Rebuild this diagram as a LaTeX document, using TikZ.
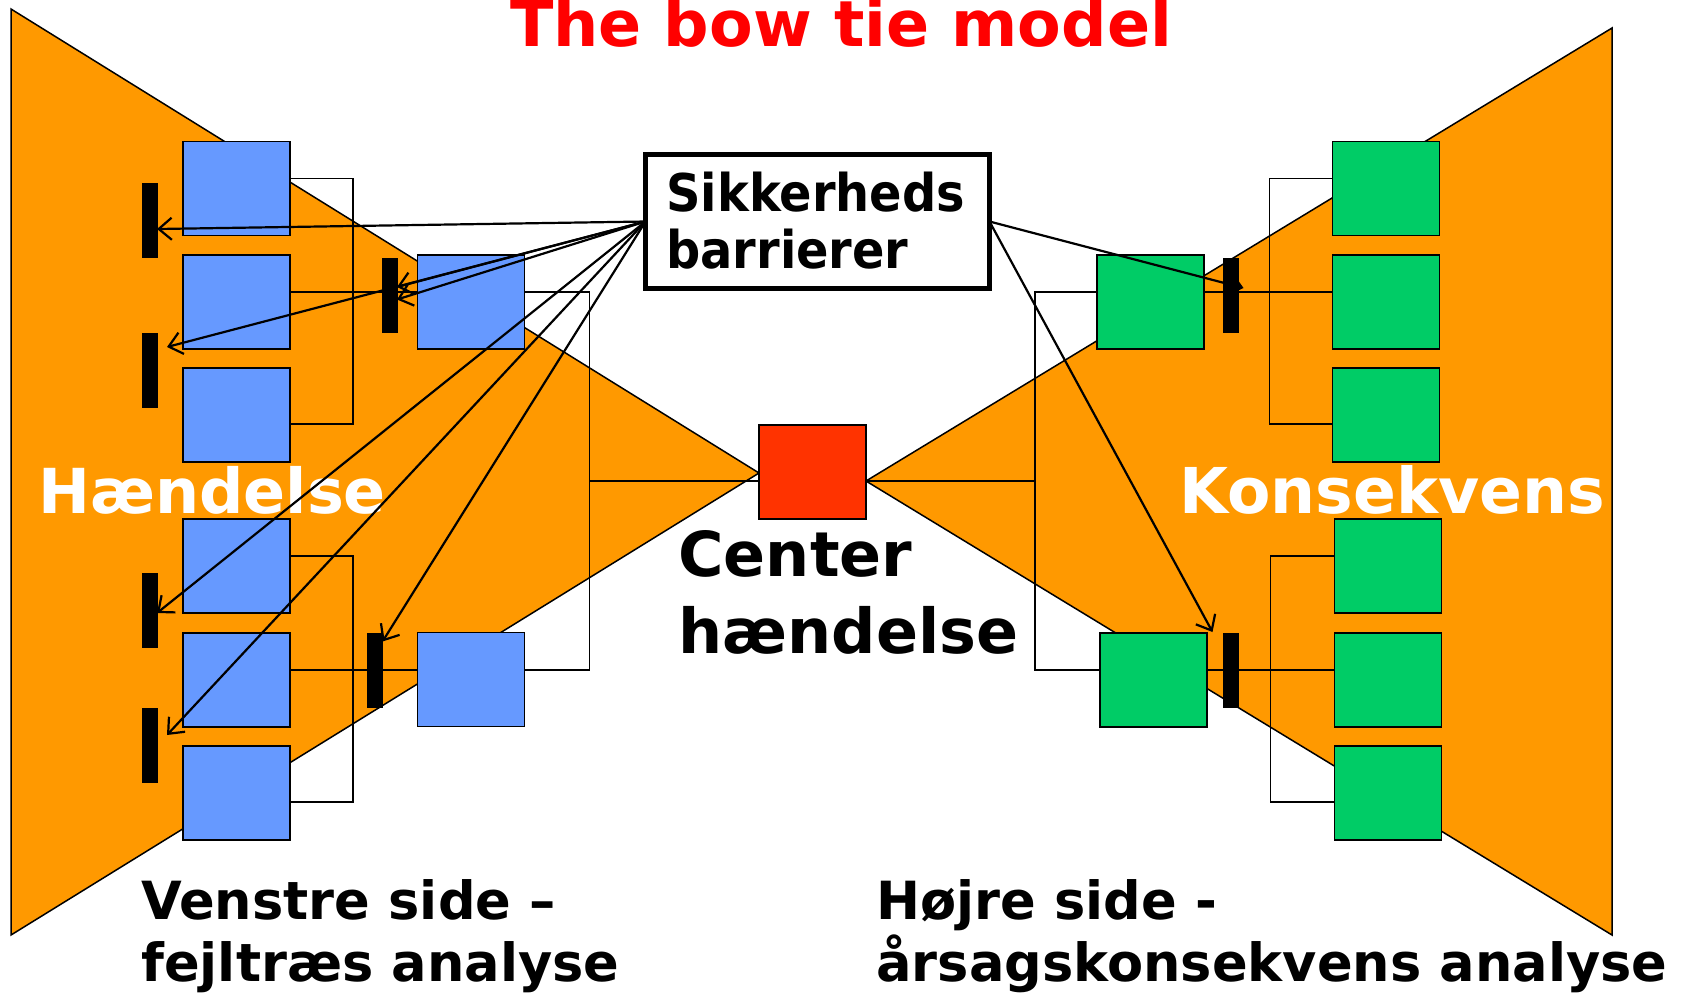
\documentclass[tikz,border=0pt]{standalone}
\usepackage{fontspec}
\setmainfont{DejaVu Sans}
\newfontfamily\condfont{DejaVu Sans}[FakeStretch=0.92]
\usetikzlibrary{arrows.meta,calc}
\definecolor{wingorange}{HTML}{FF9900}
\definecolor{causeblue}{HTML}{6699FF}
\definecolor{effectgreen}{HTML}{00CC66}
\definecolor{topred}{HTML}{FF3300}
\definecolor{titlered}{HTML}{FF0000}
\begin{document}
\begin{tikzpicture}[x=0.5pt,y=-0.5pt,
  wing/.style={fill=wingorange,draw=black,line width=0.75pt,line join=miter},
  cause/.style={draw=black,fill=causeblue,line width=0.7pt,minimum width=53.5pt,minimum height=47pt,inner sep=0pt,outer sep=0pt},
  effect/.style={cause,fill=effectgreen},
  topevent/.style={cause,fill=topred},
  barrier/.style={fill=black,minimum width=8pt,minimum height=37.5pt,inner sep=0pt,outer sep=0pt},
  conn/.style={line width=0.65pt},
  barrow/.style={line width=1.1pt,-{Straight Barb[length=6.5pt,width=11pt]}},
  lbl/.style={inner sep=0pt,anchor=base west,font=\bfseries}
]
\useasboundingbox (0,0) rectangle (1686,992);

% the two wings of the bow tie
\draw[wing] (11,9) -- (11,935) -- (759,473) -- cycle;
\draw[wing] (1612,28) -- (1612,935) -- (866,481) -- cycle;

% causes (left)
\node[cause] (L1) at (236.5,188.5) {};
\node[cause] (L2) at (236.5,302) {};
\node[cause] (L3) at (236.5,415) {};
\node[cause] (L4) at (236.5,566) {};
\node[cause] (L5) at (236.5,680) {};
\node[cause] (L6) at (236.5,793) {};
\node[cause] (M1) at (471,302) {};
\node[cause] (M2) at (471,679.5) {};

% consequences (right)
\node[effect] (R1) at (1386,188.5) {};
\node[effect] (R2) at (1386,302) {};
\node[effect] (R3) at (1386,415) {};
\node[effect] (R4) at (1388,566) {};
\node[effect] (R5) at (1388,680) {};
\node[effect] (R6) at (1388,793) {};
\node[effect] (G1) at (1150.5,302) {};
\node[effect] (G2) at (1153.5,680) {};

% top event
\node[topevent] (ctr) at (812.5,472) {};

% fault tree connectors
\draw[conn] ($(L1.east)+(0,-10)$) -- ++(63,0) |- ($(L3.east)+(0,9)$);
\draw[conn] ($(L2.east)+(0,-10)$) -- ($(M1.west)+(0,-10)$);
\draw[conn] ($(L4.east)+(0,-10)$) -- ++(63,0) |- ($(L6.east)+(0,9)$);
\draw[conn] ($(L5.east)+(0,-10)$) -- ($(M2.west)+(0,-9.5)$);
\draw[conn] ($(M1.east)+(0,-10)$) -- ++(65,0) |- ($(M2.east)+(0,-9.5)$);
\coordinate (lj) at (589,481);
\draw[conn] (lj) -- (lj -| ctr.west);

% event tree connectors
\draw[conn] ($(R1.west)+(0,-10)$) -- ++(-63,0) |- ($(R3.west)+(0,9)$);
\draw[conn] ($(G1.east)+(0,-10)$) -- ($(R2.west)+(0,-10)$);
\draw[conn] ($(R4.west)+(0,-10)$) -- ++(-64,0) |- ($(R6.west)+(0,9)$);
\draw[conn] ($(G2.east)+(0,-10)$) -- ($(R5.west)+(0,-10)$);
\draw[conn] ($(G1.west)+(0,-10)$) -- ++(-62,0) |- ($(G2.west)+(0,-10)$);
\coordinate (rj) at (1035,481);
\draw[conn] (ctr.east |- rj) -- (rj);

% barriers
\node[barrier] (B1) at (150,220.5) {};
\node[barrier] (B2) at (150,370.5) {};
\node[barrier] (B3) at (150,610.5) {};
\node[barrier] (B4) at (150,745.5) {};
\node[barrier] (C1) at (390,295.5) {};
\node[barrier] (C2) at (374.5,670.5) {};
\node[barrier] (RB1) at (1230.5,295) {};
\node[barrier] (RB2) at (1230.5,670) {};

% safety barrier box
\node[draw=black,line width=2.5pt,minimum width=172pt,minimum height=67pt,inner sep=0pt,outer sep=0pt] (sik) at (817.5,221.5) {};
\node[lbl,font=\condfont\bfseries\fontsize{26}{30}\selectfont] (sik1) at (666,211) {Sikkerheds};
\node[lbl,font=\condfont\bfseries\fontsize{26}{30}\selectfont] (sik2) at (666,268) {barrierer};

% wing labels
\node[lbl,text=white,font=\bfseries\fontsize{31}{36}\selectfont] (hl) at (38,513) {Hændelse};
\node[lbl,text=white,font=\bfseries\fontsize{31.6}{36}\selectfont] (kl) at (1179,513) {Konsekvens};

% title and captions
\node[inner sep=0pt,anchor=base,text=titlered,font=\bfseries\fontsize{31.8}{38}\selectfont] (title) at (841,46) {The bow tie model};
\node[lbl,font=\bfseries\fontsize{31}{36}\selectfont] (c1) at (678,576) {Center};
\node[lbl,font=\bfseries\fontsize{31}{36}\selectfont] (c2) at (678,653) {hændelse};
\node[lbl,font=\bfseries\fontsize{26.3}{31}\selectfont] (v1) at (141,919) {Venstre side –};
\node[lbl,font=\bfseries\fontsize{26.3}{31}\selectfont] (v2) at (141,981) {fejltræs analyse};
\node[lbl,font=\bfseries\fontsize{26.3}{31}\selectfont] (h1) at (876,919) {Højre side -};
\node[lbl,font=\bfseries\fontsize{26.3}{31}\selectfont] (h2) at (876,981) {årsagskonsekvens analyse};

% barrier arrows
\draw[barrow] (sik.west) -- ($(B1.east)+(-1,8.5)$);
\draw[barrow] (sik.west) -- ($(C1.east)+(-1,-8.5)$);
\draw[barrow] (sik.west) -- ($(C1.east)+(-1,4)$);
\draw[barrow] (sik.west) -- ($(B2.east)+(9,-23.5)$);
\draw[barrow] (sik.west) -- ($(B3.east)+(-1,2.5)$);
\draw[barrow] (sik.west) -- ($(B4.east)+(9,-10.5)$);
\draw[barrow] (sik.west) -- ($(C2.east)+(0,-29)$);
\draw[barrow] (sik.east) -- ($(RB1.east)+(5,-7)$);
\draw[barrow] (sik.east) -- ($(RB2.west)+(-10,-38)$);
\end{tikzpicture}
\end{document}
